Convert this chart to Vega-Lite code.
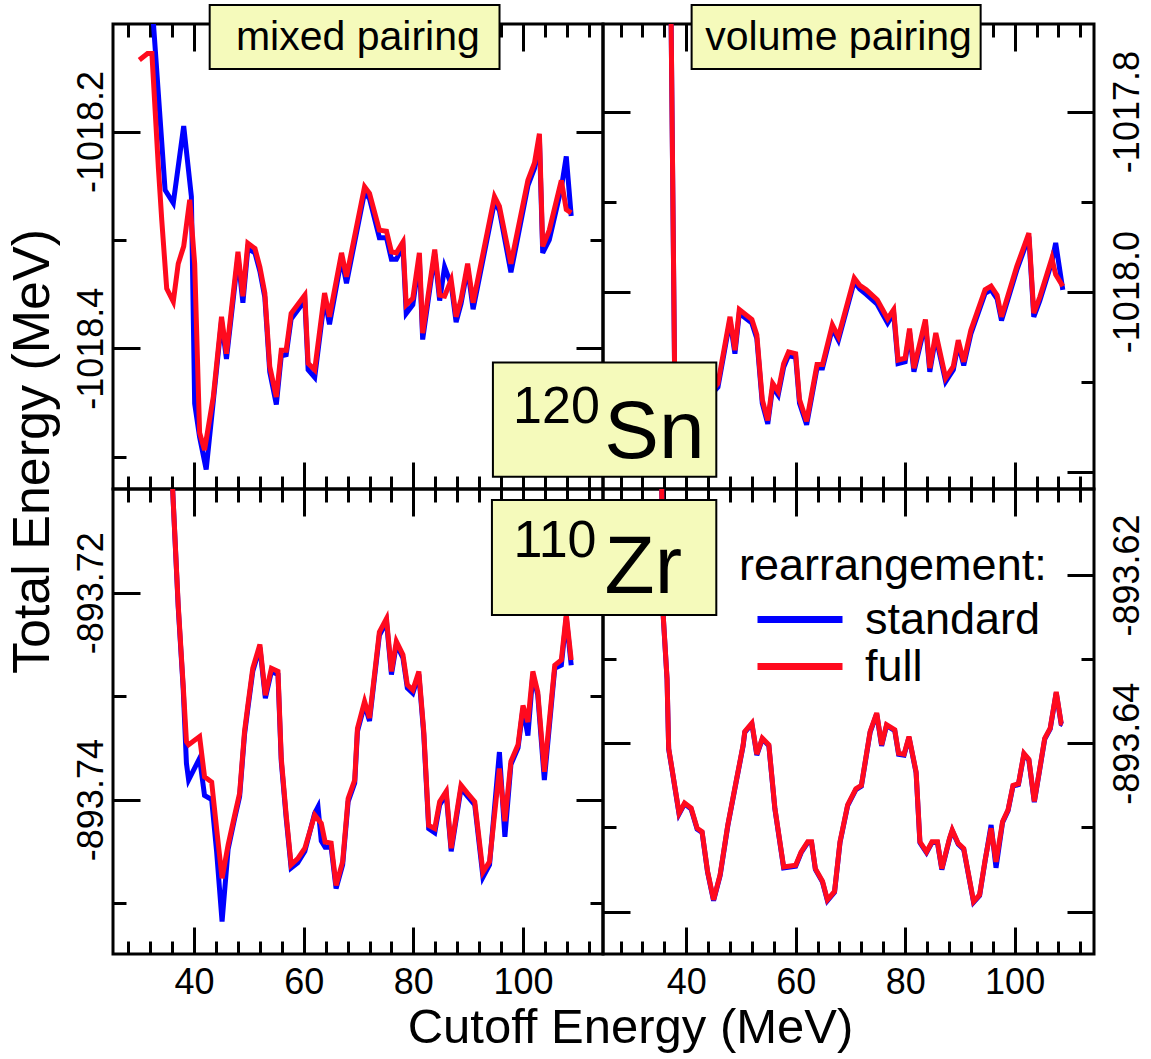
{
"$schema": "https://vega.github.io/schema/vega-lite/v6.json",
"padding": {"left": 4, "top": 2, "right": 2, "bottom": 2},
"background": "white",
"datasets": {
"tl_full": [{"cutoff":30,"energy":-1018.134},{"cutoff":31.5,"energy":-1018.128},{"cutoff":32.3,"energy":-1018.128},{"cutoff":33.5,"energy":-1018.235},{"cutoff":34.1,"energy":-1018.282},{"cutoff":35,"energy":-1018.345},{"cutoff":36.2,"energy":-1018.357},{"cutoff":37.1,"energy":-1018.322},{"cutoff":38.1,"energy":-1018.306},{"cutoff":39.2,"energy":-1018.263},{"cutoff":40.1,"energy":-1018.322},{"cutoff":41,"energy":-1018.478},{"cutoff":41.9,"energy":-1018.494},{"cutoff":43.5,"energy":-1018.445},{"cutoff":45,"energy":-1018.371},{"cutoff":45.9,"energy":-1018.405},{"cutoff":48,"energy":-1018.311},{"cutoff":48.9,"energy":-1018.352},{"cutoff":49.8,"energy":-1018.303},{"cutoff":51.1,"energy":-1018.308},{"cutoff":52,"energy":-1018.325},{"cutoff":52.9,"energy":-1018.349},{"cutoff":53.8,"energy":-1018.417},{"cutoff":55,"energy":-1018.445},{"cutoff":55.9,"energy":-1018.402},{"cutoff":56.8,"energy":-1018.402},{"cutoff":57.7,"energy":-1018.368},{"cutoff":60.2,"energy":-1018.351},{"cutoff":60.8,"energy":-1018.414},{"cutoff":62,"energy":-1018.42},{"cutoff":63.8,"energy":-1018.349},{"cutoff":64.7,"energy":-1018.371},{"cutoff":66.9,"energy":-1018.312},{"cutoff":67.8,"energy":-1018.334},{"cutoff":71.1,"energy":-1018.251},{"cutoff":72,"energy":-1018.257},{"cutoff":73.8,"energy":-1018.291},{"cutoff":75.1,"energy":-1018.292},{"cutoff":76,"energy":-1018.311},{"cutoff":76.9,"energy":-1018.312},{"cutoff":78.1,"energy":-1018.302},{"cutoff":78.7,"energy":-1018.36},{"cutoff":79.9,"energy":-1018.354},{"cutoff":81.1,"energy":-1018.312},{"cutoff":81.7,"energy":-1018.386},{"cutoff":83.9,"energy":-1018.309},{"cutoff":84.8,"energy":-1018.351},{"cutoff":85.7,"energy":-1018.352},{"cutoff":86.9,"energy":-1018.337},{"cutoff":87.8,"energy":-1018.371},{"cutoff":88.7,"energy":-1018.355},{"cutoff":89.9,"energy":-1018.322},{"cutoff":90.9,"energy":-1018.358},{"cutoff":94.8,"energy":-1018.26},{"cutoff":95.7,"energy":-1018.269},{"cutoff":97.8,"energy":-1018.322},{"cutoff":100.9,"energy":-1018.245},{"cutoff":102.1,"energy":-1018.229},{"cutoff":103,"energy":-1018.202},{"cutoff":103.6,"energy":-1018.306},{"cutoff":104.8,"energy":-1018.291},{"cutoff":107,"energy":-1018.245},{"cutoff":107.9,"energy":-1018.272},{"cutoff":108.8,"energy":-1018.275}],
"tl_standard": [{"cutoff":31,"energy":-1017.98},{"cutoff":32.3,"energy":-1018.08},{"cutoff":34.7,"energy":-1018.254},{"cutoff":36.2,"energy":-1018.266},{"cutoff":38.1,"energy":-1018.195},{"cutoff":39.5,"energy":-1018.26},{"cutoff":40.1,"energy":-1018.451},{"cutoff":41,"energy":-1018.482},{"cutoff":42.2,"energy":-1018.512},{"cutoff":43.5,"energy":-1018.449},{"cutoff":45,"energy":-1018.375},{"cutoff":45.9,"energy":-1018.41},{"cutoff":48,"energy":-1018.316},{"cutoff":48.9,"energy":-1018.358},{"cutoff":49.8,"energy":-1018.308},{"cutoff":51.1,"energy":-1018.312},{"cutoff":52,"energy":-1018.329},{"cutoff":52.9,"energy":-1018.353},{"cutoff":53.8,"energy":-1018.422},{"cutoff":55,"energy":-1018.452},{"cutoff":55.9,"energy":-1018.407},{"cutoff":56.8,"energy":-1018.406},{"cutoff":57.7,"energy":-1018.373},{"cutoff":60.2,"energy":-1018.356},{"cutoff":60.8,"energy":-1018.42},{"cutoff":62,"energy":-1018.427},{"cutoff":63.8,"energy":-1018.354},{"cutoff":64.7,"energy":-1018.378},{"cutoff":66.9,"energy":-1018.317},{"cutoff":67.8,"energy":-1018.34},{"cutoff":71.1,"energy":-1018.256},{"cutoff":72,"energy":-1018.262},{"cutoff":73.8,"energy":-1018.298},{"cutoff":75.1,"energy":-1018.298},{"cutoff":76,"energy":-1018.318},{"cutoff":76.9,"energy":-1018.318},{"cutoff":78.1,"energy":-1018.306},{"cutoff":78.7,"energy":-1018.368},{"cutoff":79.9,"energy":-1018.36},{"cutoff":81.1,"energy":-1018.318},{"cutoff":81.7,"energy":-1018.392},{"cutoff":83.9,"energy":-1018.313},{"cutoff":84.8,"energy":-1018.356},{"cutoff":85.7,"energy":-1018.325},{"cutoff":86.9,"energy":-1018.341},{"cutoff":87.8,"energy":-1018.376},{"cutoff":88.7,"energy":-1018.359},{"cutoff":89.9,"energy":-1018.326},{"cutoff":90.9,"energy":-1018.364},{"cutoff":94.8,"energy":-1018.265},{"cutoff":95.7,"energy":-1018.273},{"cutoff":97.8,"energy":-1018.33},{"cutoff":100.9,"energy":-1018.25},{"cutoff":102.1,"energy":-1018.234},{"cutoff":103,"energy":-1018.207},{"cutoff":103.6,"energy":-1018.312},{"cutoff":104.8,"energy":-1018.3},{"cutoff":107,"energy":-1018.252},{"cutoff":107.9,"energy":-1018.223},{"cutoff":108.8,"energy":-1018.278}],
"tr_full": [{"cutoff":37,"energy":-1017.55},{"cutoff":38,"energy":-1018.16},{"cutoff":40,"energy":-1018.15},{"cutoff":42,"energy":-1018.13},{"cutoff":44,"energy":-1018.115},{"cutoff":45.8,"energy":-1018.102},{"cutoff":48,"energy":-1018.028},{"cutoff":48.9,"energy":-1018.065},{"cutoff":49.7,"energy":-1018.02},{"cutoff":52,"energy":-1018.031},{"cutoff":52.9,"energy":-1018.048},{"cutoff":53.9,"energy":-1018.12},{"cutoff":54.9,"energy":-1018.143},{"cutoff":55.8,"energy":-1018.102},{"cutoff":56.8,"energy":-1018.111},{"cutoff":57.8,"energy":-1018.08},{"cutoff":58.7,"energy":-1018.067},{"cutoff":60,"energy":-1018.069},{"cutoff":60.7,"energy":-1018.12},{"cutoff":62,"energy":-1018.144},{"cutoff":63.9,"energy":-1018.081},{"cutoff":64.9,"energy":-1018.081},{"cutoff":66.7,"energy":-1018.037},{"cutoff":67.8,"energy":-1018.05},{"cutoff":70.7,"energy":-1017.985},{"cutoff":71.7,"energy":-1017.993},{"cutoff":72.9,"energy":-1017.998},{"cutoff":74.9,"energy":-1018.009},{"cutoff":75.8,"energy":-1018.019},{"cutoff":76.8,"energy":-1018.03},{"cutoff":77.9,"energy":-1018.02},{"cutoff":78.7,"energy":-1018.076},{"cutoff":80,"energy":-1018.074},{"cutoff":80.8,"energy":-1018.041},{"cutoff":81.6,"energy":-1018.085},{"cutoff":83.7,"energy":-1018.031},{"cutoff":84.5,"energy":-1018.085},{"cutoff":85.6,"energy":-1018.046},{"cutoff":87.4,"energy":-1018.096},{"cutoff":88.8,"energy":-1018.083},{"cutoff":89.7,"energy":-1018.054},{"cutoff":90.7,"energy":-1018.078},{"cutoff":92,"energy":-1018.043},{"cutoff":94.6,"energy":-1017.998},{"cutoff":95.7,"energy":-1017.994},{"cutoff":96.8,"energy":-1018.004},{"cutoff":97.6,"energy":-1018.028},{"cutoff":100.4,"energy":-1017.972},{"cutoff":102.6,"energy":-1017.935},{"cutoff":103.5,"energy":-1018.024},{"cutoff":104.6,"energy":-1018.006},{"cutoff":106.8,"energy":-1017.963},{"cutoff":107.5,"energy":-1017.981},{"cutoff":108.8,"energy":-1017.994}],
"tr_standard": [{"cutoff":37,"energy":-1017.55},{"cutoff":38,"energy":-1018.163},{"cutoff":40,"energy":-1018.153},{"cutoff":42,"energy":-1018.133},{"cutoff":44,"energy":-1018.118},{"cutoff":45.8,"energy":-1018.106},{"cutoff":48,"energy":-1018.032},{"cutoff":48.9,"energy":-1018.069},{"cutoff":49.7,"energy":-1018.024},{"cutoff":52,"energy":-1018.035},{"cutoff":52.9,"energy":-1018.052},{"cutoff":53.9,"energy":-1018.124},{"cutoff":54.9,"energy":-1018.147},{"cutoff":55.8,"energy":-1018.106},{"cutoff":56.8,"energy":-1018.115},{"cutoff":57.8,"energy":-1018.084},{"cutoff":58.7,"energy":-1018.071},{"cutoff":60,"energy":-1018.073},{"cutoff":60.7,"energy":-1018.124},{"cutoff":62,"energy":-1018.148},{"cutoff":63.9,"energy":-1018.085},{"cutoff":64.9,"energy":-1018.085},{"cutoff":66.7,"energy":-1018.041},{"cutoff":67.8,"energy":-1018.054},{"cutoff":70.7,"energy":-1017.989},{"cutoff":71.7,"energy":-1017.997},{"cutoff":72.9,"energy":-1018.003},{"cutoff":74.9,"energy":-1018.014},{"cutoff":75.8,"energy":-1018.024},{"cutoff":76.8,"energy":-1018.035},{"cutoff":77.9,"energy":-1018.024},{"cutoff":78.7,"energy":-1018.08},{"cutoff":80,"energy":-1018.078},{"cutoff":80.8,"energy":-1018.045},{"cutoff":81.6,"energy":-1018.089},{"cutoff":83.7,"energy":-1018.035},{"cutoff":84.5,"energy":-1018.089},{"cutoff":85.6,"energy":-1018.05},{"cutoff":87.4,"energy":-1018.1},{"cutoff":88.8,"energy":-1018.087},{"cutoff":89.7,"energy":-1018.058},{"cutoff":90.7,"energy":-1018.082},{"cutoff":92,"energy":-1018.047},{"cutoff":94.6,"energy":-1018.002},{"cutoff":95.7,"energy":-1017.998},{"cutoff":96.8,"energy":-1018.008},{"cutoff":97.6,"energy":-1018.032},{"cutoff":100.4,"energy":-1017.976},{"cutoff":102.6,"energy":-1017.939},{"cutoff":103.5,"energy":-1018.028},{"cutoff":104.6,"energy":-1018.01},{"cutoff":106.8,"energy":-1017.967},{"cutoff":107.5,"energy":-1017.946},{"cutoff":108.8,"energy":-1017.998}],
"bl_full": [{"cutoff":35,"energy":-893.69},{"cutoff":36.1,"energy":-893.7102},{"cutoff":37.1,"energy":-893.7212},{"cutoff":38,"energy":-893.7289},{"cutoff":38.6,"energy":-893.7344},{"cutoff":39,"energy":-893.7347},{"cutoff":41,"energy":-893.7339},{"cutoff":41.9,"energy":-893.7378},{"cutoff":43.2,"energy":-893.7383},{"cutoff":44.1,"energy":-893.7428},{"cutoff":45.1,"energy":-893.7476},{"cutoff":46.2,"energy":-893.7444},{"cutoff":47.4,"energy":-893.7415},{"cutoff":48.3,"energy":-893.7394},{"cutoff":49.2,"energy":-893.7334},{"cutoff":49.8,"energy":-893.7309},{"cutoff":50.7,"energy":-893.7273},{"cutoff":52,"energy":-893.725},{"cutoff":53,"energy":-893.7299},{"cutoff":54.1,"energy":-893.7273},{"cutoff":55.3,"energy":-893.7276},{"cutoff":55.9,"energy":-893.736},{"cutoff":56.8,"energy":-893.7415},{"cutoff":57.7,"energy":-893.7463},{"cutoff":58.9,"energy":-893.7457},{"cutoff":60.2,"energy":-893.7447},{"cutoff":62,"energy":-893.7415},{"cutoff":63.2,"energy":-893.7423},{"cutoff":63.9,"energy":-893.7441},{"cutoff":65,"energy":-893.7442},{"cutoff":65.9,"energy":-893.7483},{"cutoff":67.1,"energy":-893.746},{"cutoff":68.1,"energy":-893.7399},{"cutoff":69.3,"energy":-893.7381},{"cutoff":69.8,"energy":-893.7331},{"cutoff":71.1,"energy":-893.7305},{"cutoff":72,"energy":-893.7321},{"cutoff":73.8,"energy":-893.7238},{"cutoff":75.1,"energy":-893.7225},{"cutoff":76,"energy":-893.7276},{"cutoff":76.9,"energy":-893.7247},{"cutoff":78.1,"energy":-893.726},{"cutoff":78.9,"energy":-893.7289},{"cutoff":79.9,"energy":-893.7294},{"cutoff":81,"energy":-893.7276},{"cutoff":81.9,"energy":-893.7334},{"cutoff":82.8,"energy":-893.7425},{"cutoff":83.9,"energy":-893.7428},{"cutoff":84.8,"energy":-893.7402},{"cutoff":86,"energy":-893.7392},{"cutoff":86.9,"energy":-893.7447},{"cutoff":88.7,"energy":-893.7386},{"cutoff":89.9,"energy":-893.7394},{"cutoff":91.2,"energy":-893.7402},{"cutoff":92.7,"energy":-893.747},{"cutoff":93.9,"energy":-893.746},{"cutoff":95.7,"energy":-893.737},{"cutoff":96.7,"energy":-893.7421},{"cutoff":97.8,"energy":-893.7363},{"cutoff":99.1,"energy":-893.7347},{"cutoff":100,"energy":-893.7309},{"cutoff":100.9,"energy":-893.7325},{"cutoff":101.8,"energy":-893.7276},{"cutoff":102.7,"energy":-893.7296},{"cutoff":103.9,"energy":-893.7373},{"cutoff":105.8,"energy":-893.727},{"cutoff":107,"energy":-893.7265},{"cutoff":107.9,"energy":-893.7221},{"cutoff":108.8,"energy":-893.7265}],
"bl_standard": [{"cutoff":35,"energy":-893.69},{"cutoff":36.1,"energy":-893.7102},{"cutoff":37.1,"energy":-893.7214},{"cutoff":38,"energy":-893.7292},{"cutoff":38.6,"energy":-893.7365},{"cutoff":39,"energy":-893.7381},{"cutoff":41,"energy":-893.736},{"cutoff":41.9,"energy":-893.7396},{"cutoff":43.2,"energy":-893.74},{"cutoff":44.1,"energy":-893.745},{"cutoff":45.1,"energy":-893.7518},{"cutoff":46.2,"energy":-893.7448},{"cutoff":47.4,"energy":-893.7418},{"cutoff":48.3,"energy":-893.7397},{"cutoff":49.2,"energy":-893.7337},{"cutoff":49.8,"energy":-893.7312},{"cutoff":50.7,"energy":-893.7276},{"cutoff":52,"energy":-893.7253},{"cutoff":53,"energy":-893.7302},{"cutoff":54.1,"energy":-893.7276},{"cutoff":55.3,"energy":-893.7279},{"cutoff":55.9,"energy":-893.7363},{"cutoff":56.8,"energy":-893.7418},{"cutoff":57.7,"energy":-893.7466},{"cutoff":58.9,"energy":-893.7461},{"cutoff":60.2,"energy":-893.745},{"cutoff":62,"energy":-893.7413},{"cutoff":62.6,"energy":-893.7407},{"cutoff":63.2,"energy":-893.744},{"cutoff":63.9,"energy":-893.7446},{"cutoff":65,"energy":-893.7446},{"cutoff":65.9,"energy":-893.7486},{"cutoff":67.1,"energy":-893.7463},{"cutoff":68.1,"energy":-893.7402},{"cutoff":69.3,"energy":-893.7384},{"cutoff":69.8,"energy":-893.7334},{"cutoff":71.1,"energy":-893.7308},{"cutoff":72,"energy":-893.7324},{"cutoff":73.8,"energy":-893.7241},{"cutoff":75.1,"energy":-893.7228},{"cutoff":76,"energy":-893.7279},{"cutoff":76.9,"energy":-893.725},{"cutoff":78.1,"energy":-893.7263},{"cutoff":78.9,"energy":-893.7292},{"cutoff":79.9,"energy":-893.7297},{"cutoff":81,"energy":-893.7279},{"cutoff":81.9,"energy":-893.7337},{"cutoff":82.8,"energy":-893.7428},{"cutoff":83.9,"energy":-893.7432},{"cutoff":84.8,"energy":-893.7405},{"cutoff":86,"energy":-893.7395},{"cutoff":86.9,"energy":-893.745},{"cutoff":88.7,"energy":-893.7389},{"cutoff":89.9,"energy":-893.7397},{"cutoff":91.2,"energy":-893.7405},{"cutoff":92.7,"energy":-893.7475},{"cutoff":93.9,"energy":-893.7463},{"cutoff":95.7,"energy":-893.7354},{"cutoff":96.7,"energy":-893.7436},{"cutoff":97.8,"energy":-893.7366},{"cutoff":99.1,"energy":-893.735},{"cutoff":100,"energy":-893.7312},{"cutoff":100.9,"energy":-893.7338},{"cutoff":101.8,"energy":-893.7279},{"cutoff":102.7,"energy":-893.7299},{"cutoff":103.9,"energy":-893.7381},{"cutoff":105.8,"energy":-893.7273},{"cutoff":107,"energy":-893.727},{"cutoff":107.9,"energy":-893.7224},{"cutoff":108.8,"energy":-893.727}],
"br_full": [{"cutoff":35,"energy":-893.58},{"cutoff":35.8,"energy":-893.6248},{"cutoff":36.5,"energy":-893.6323},{"cutoff":36.8,"energy":-893.6406},{"cutoff":37.4,"energy":-893.643},{"cutoff":38.7,"energy":-893.6483},{"cutoff":39.7,"energy":-893.6471},{"cutoff":40.9,"energy":-893.6477},{"cutoff":42,"energy":-893.6501},{"cutoff":42.9,"energy":-893.6505},{"cutoff":43.9,"energy":-893.6552},{"cutoff":45,"energy":-893.6586},{"cutoff":46.2,"energy":-893.6556},{"cutoff":47.6,"energy":-893.6497},{"cutoff":49.1,"energy":-893.6446},{"cutoff":50.4,"energy":-893.6402},{"cutoff":50.7,"energy":-893.6386},{"cutoff":52,"energy":-893.6376},{"cutoff":52.9,"energy":-893.6413},{"cutoff":53.9,"energy":-893.6394},{"cutoff":55.1,"energy":-893.6402},{"cutoff":56.2,"energy":-893.6477},{"cutoff":57.8,"energy":-893.6547},{"cutoff":60,"energy":-893.6545},{"cutoff":61,"energy":-893.6529},{"cutoff":62.2,"energy":-893.6517},{"cutoff":62.9,"energy":-893.6517},{"cutoff":63.6,"energy":-893.6549},{"cutoff":64.9,"energy":-893.6564},{"cutoff":65.8,"energy":-893.6586},{"cutoff":67.1,"energy":-893.6576},{"cutoff":68.1,"energy":-893.6517},{"cutoff":69.5,"energy":-893.6473},{"cutoff":71,"energy":-893.6454},{"cutoff":72,"energy":-893.645},{"cutoff":73.6,"energy":-893.6386},{"cutoff":74.8,"energy":-893.6364},{"cutoff":75.7,"energy":-893.6402},{"cutoff":76.6,"energy":-893.6378},{"cutoff":78.1,"energy":-893.6384},{"cutoff":78.8,"energy":-893.6412},{"cutoff":79.8,"energy":-893.6413},{"cutoff":80.7,"energy":-893.6392},{"cutoff":82,"energy":-893.6434},{"cutoff":82.7,"energy":-893.6517},{"cutoff":83.9,"energy":-893.6529},{"cutoff":84.9,"energy":-893.6517},{"cutoff":85.9,"energy":-893.6517},{"cutoff":86.7,"energy":-893.6549},{"cutoff":88.1,"energy":-893.6513},{"cutoff":88.6,"energy":-893.6503},{"cutoff":89.7,"energy":-893.6519},{"cutoff":90.7,"energy":-893.6525},{"cutoff":92.5,"energy":-893.6588},{"cutoff":93.6,"energy":-893.658},{"cutoff":94.6,"energy":-893.6539},{"cutoff":95.7,"energy":-893.6501},{"cutoff":96.6,"energy":-893.6541},{"cutoff":97.8,"energy":-893.6493},{"cutoff":98.8,"energy":-893.6479},{"cutoff":99.7,"energy":-893.645},{"cutoff":100.7,"energy":-893.6448},{"cutoff":101.7,"energy":-893.6412},{"cutoff":102.6,"energy":-893.6419},{"cutoff":103.6,"energy":-893.6469},{"cutoff":105.5,"energy":-893.6394},{"cutoff":106.5,"energy":-893.6382},{"cutoff":107.6,"energy":-893.6339},{"cutoff":108.5,"energy":-893.6376},{"cutoff":108.8,"energy":-893.6376}],
"br_standard": [{"cutoff":35,"energy":-893.58},{"cutoff":35.8,"energy":-893.6249},{"cutoff":36.5,"energy":-893.6324},{"cutoff":36.8,"energy":-893.6407},{"cutoff":37.4,"energy":-893.6431},{"cutoff":38.7,"energy":-893.6484},{"cutoff":39.7,"energy":-893.6472},{"cutoff":40.9,"energy":-893.6478},{"cutoff":42,"energy":-893.6502},{"cutoff":42.9,"energy":-893.6506},{"cutoff":43.9,"energy":-893.6553},{"cutoff":45,"energy":-893.6587},{"cutoff":46.2,"energy":-893.6557},{"cutoff":47.6,"energy":-893.6498},{"cutoff":49.1,"energy":-893.6447},{"cutoff":50.4,"energy":-893.6403},{"cutoff":50.7,"energy":-893.6387},{"cutoff":52,"energy":-893.6377},{"cutoff":52.9,"energy":-893.6414},{"cutoff":53.9,"energy":-893.6395},{"cutoff":55.1,"energy":-893.6403},{"cutoff":56.2,"energy":-893.6478},{"cutoff":57.8,"energy":-893.6548},{"cutoff":60,"energy":-893.6546},{"cutoff":61,"energy":-893.653},{"cutoff":62.2,"energy":-893.6518},{"cutoff":62.9,"energy":-893.6518},{"cutoff":63.6,"energy":-893.655},{"cutoff":64.9,"energy":-893.6565},{"cutoff":65.8,"energy":-893.6587},{"cutoff":67.1,"energy":-893.6577},{"cutoff":68.1,"energy":-893.6518},{"cutoff":69.5,"energy":-893.6474},{"cutoff":71,"energy":-893.6455},{"cutoff":72,"energy":-893.6451},{"cutoff":73.6,"energy":-893.6387},{"cutoff":74.8,"energy":-893.6365},{"cutoff":75.7,"energy":-893.6403},{"cutoff":76.6,"energy":-893.6379},{"cutoff":78.1,"energy":-893.6385},{"cutoff":78.8,"energy":-893.6413},{"cutoff":79.8,"energy":-893.6414},{"cutoff":80.7,"energy":-893.6393},{"cutoff":82,"energy":-893.6435},{"cutoff":82.7,"energy":-893.6518},{"cutoff":83.9,"energy":-893.653},{"cutoff":84.9,"energy":-893.6518},{"cutoff":85.9,"energy":-893.6518},{"cutoff":86.7,"energy":-893.655},{"cutoff":88.1,"energy":-893.6514},{"cutoff":88.6,"energy":-893.6504},{"cutoff":89.7,"energy":-893.652},{"cutoff":90.7,"energy":-893.6526},{"cutoff":92.5,"energy":-893.6589},{"cutoff":93.6,"energy":-893.6581},{"cutoff":94.6,"energy":-893.654},{"cutoff":95.7,"energy":-893.6497},{"cutoff":96.6,"energy":-893.6548},{"cutoff":97.8,"energy":-893.6494},{"cutoff":98.8,"energy":-893.648},{"cutoff":99.7,"energy":-893.6451},{"cutoff":100.7,"energy":-893.6449},{"cutoff":101.7,"energy":-893.6413},{"cutoff":102.6,"energy":-893.642},{"cutoff":103.6,"energy":-893.647},{"cutoff":105.5,"energy":-893.6395},{"cutoff":106.5,"energy":-893.6383},{"cutoff":107.6,"energy":-893.634},{"cutoff":108.5,"energy":-893.6377},{"cutoff":108.8,"energy":-893.6378}]
},
"columns": 2,
"spacing": 0,
"bounds": "flush",
"concat": [
 {"width": 490, "height": 465,
  "resolve": {"axis": {"x": "independent", "y": "independent"}},
  "layer": [
   {"data": {"name": "tl_standard"}, "mark": {"type": "line", "strokeWidth": 5, "clip": true},
    "encoding": {
     "x": {"field": "cutoff", "type": "quantitative", "scale": {"domain": [25.2, 114.6], "nice": false, "zero": false},
       "axis": {"orient": "bottom", "values": [28,32,36,40,44,48,52,56,60,64,68,72,76,80,84,88,92,96,100,104,108,112], "tickSize": {"condition": {"test": "datum.value % 20 == 0", "value": -27}, "value": -13}, "labels": false, "title": null}},
     "y": {"field": "energy", "type": "quantitative", "scale": {"domain": [-1018.53, -1018.1007], "nice": false, "zero": false},
       "axis": {"orient": "left", "values": [-1018.5,-1018.4,-1018.3,-1018.2], "format": ".1f", "tickSize": {"condition": {"test": "abs(round(datum.value*10)) % 2 == 0", "value": -27}, "value": -13}, "labelExpr": "abs(round(datum.value*10)) % 2 == 0 ? replace(datum.label, '−', '-') : ''", "labelAngle": -90, "labelAlign": "center", "labelBaseline": "alphabetic", "labelPadding": 38, "title": "Total Energy (MeV)", "titleFontSize": 52, "titleAngle": -90, "titleAlign": "center", "titleBaseline": "alphabetic", "titleX": -65, "titleY": 427}},
     "color": {"datum": "standard", "title": "rearrangement:", "scale": {"domain": ["standard", "full"], "range": ["#0000ff", "#ff0a1e"]}}
    }},
   {"data": {"name": "tl_full"}, "mark": {"type": "line", "strokeWidth": 5, "clip": true},
    "encoding": {
     "x": {"field": "cutoff", "type": "quantitative",
       "axis": {"orient": "top", "values": [28,32,36,40,44,48,52,56,60,64,68,72,76,80,84,88,92,96,100,104,108,112], "tickSize": {"condition": {"test": "datum.value % 20 == 0", "value": -27}, "value": -13}, "labels": false, "title": null}},
     "y": {"field": "energy", "type": "quantitative",
       "axis": {"orient": "right", "values": [-1018.5,-1018.4,-1018.3,-1018.2], "tickSize": {"condition": {"test": "abs(round(datum.value*10)) % 2 == 0", "value": -27}, "value": -13}, "labels": false, "title": null}},
     "color": {"datum": "full", "title": "rearrangement:"}
    }},
   {"data": {"values": [{"label": "mixed pairing"}]},
    "layer": [
     {"mark": {"type": "rect", "fill": "#f5fabb", "stroke": "black", "strokeWidth": 2},
      "encoding": {"x": {"datum": 42.84, "type": "quantitative", "axis": null}, "x2": {"datum": 95.72}, "y": {"datum": -1018.0831, "type": "quantitative", "axis": null}, "y2": {"datum": -1018.1422}}},
     {"mark": {"type": "text", "fontSize": 41, "align": "center", "baseline": "alphabetic", "font": "Liberation Sans", "color": "black"},
      "encoding": {"x": {"datum": 69.88, "type": "quantitative", "axis": null}, "y": {"datum": -1018.1247, "type": "quantitative", "axis": null}, "text": {"field": "label"}}}
    ]}
  ]},
 {"width": 491, "height": 465,
  "resolve": {"axis": {"x": "independent", "y": "independent"}},
  "layer": [
   {"data": {"name": "tr_standard"}, "mark": {"type": "line", "strokeWidth": 5, "clip": true},
    "encoding": {
     "x": {"field": "cutoff", "type": "quantitative", "scale": {"domain": [24.8, 114.5], "nice": false, "zero": false},
       "axis": {"orient": "bottom", "values": [28,32,36,40,44,48,52,56,60,64,68,72,76,80,84,88,92,96,100,104,108,112], "tickSize": {"condition": {"test": "datum.value % 20 == 0", "value": -27}, "value": -13}, "labels": false, "title": null}},
     "y": {"field": "energy", "type": "quantitative", "scale": {"domain": [-1018.2193, -1017.7027], "nice": false, "zero": false},
       "axis": {"orient": "left", "values": [-1018.2,-1018.1,-1018.0,-1017.9,-1017.8], "tickSize": {"condition": {"test": "abs(round(datum.value*10)) % 2 == 0", "value": -27}, "value": -13}, "labels": false, "title": null}},
     "color": {"datum": "standard", "title": "rearrangement:"}
    }},
   {"data": {"name": "tr_full"}, "mark": {"type": "line", "strokeWidth": 5, "clip": true},
    "encoding": {
     "x": {"field": "cutoff", "type": "quantitative",
       "axis": {"orient": "top", "values": [28,32,36,40,44,48,52,56,60,64,68,72,76,80,84,88,92,96,100,104,108,112], "tickSize": {"condition": {"test": "datum.value % 20 == 0", "value": -27}, "value": -13}, "labels": false, "title": null}},
     "y": {"field": "energy", "type": "quantitative",
       "axis": {"orient": "right", "values": [-1018.2,-1018.1,-1018.0,-1017.9,-1017.8], "format": ".1f", "tickSize": {"condition": {"test": "abs(round(datum.value*10)) % 2 == 0", "value": -27}, "value": -13}, "labelExpr": "datum.value > -1018.1 && abs(round(datum.value*10)) % 2 == 0 ? replace(datum.label, '−', '-') : ''", "labelAngle": -90, "labelAlign": "center", "labelBaseline": "top", "labelPadding": 43, "title": null}},
     "color": {"datum": "full", "title": "rearrangement:"}
    }},
   {"data": {"values": [{"label": "volume pairing", "sup": "120", "sym": "Sn"}]},
    "layer": [
     {"mark": {"type": "rect", "fill": "#f5fabb", "stroke": "black", "strokeWidth": 2},
      "encoding": {"x": {"datum": 40.99, "type": "quantitative", "axis": null}, "x2": {"datum": 93.79}, "y": {"datum": -1017.6816, "type": "quantitative", "axis": null}, "y2": {"datum": -1017.7527}}},
     {"mark": {"type": "text", "fontSize": 41, "align": "center", "baseline": "alphabetic", "font": "Liberation Sans", "color": "black"},
      "encoding": {"x": {"datum": 67.84, "type": "quantitative", "axis": null}, "y": {"datum": -1017.7316, "type": "quantitative", "axis": null}, "text": {"field": "label"}}},
     {"mark": {"type": "rect", "fill": "#f5fabb", "stroke": "black", "strokeWidth": 2},
      "encoding": {"x": {"datum": 4.69, "type": "quantitative", "axis": null}, "x2": {"datum": 45.5}, "y": {"datum": -1018.0789, "type": "quantitative", "axis": null}, "y2": {"datum": -1018.2056}}},
     {"mark": {"type": "text", "fontSize": 52, "align": "right", "baseline": "alphabetic", "font": "Liberation Sans", "color": "black"},
      "encoding": {"x": {"datum": 24.23, "type": "quantitative", "axis": null}, "y": {"datum": -1018.1456, "type": "quantitative", "axis": null}, "text": {"field": "sup"}}},
     {"mark": {"type": "text", "fontSize": 82, "align": "left", "baseline": "alphabetic", "font": "Liberation Sans", "color": "black"},
      "encoding": {"x": {"datum": 25.02, "type": "quantitative", "axis": null}, "y": {"datum": -1018.1852, "type": "quantitative", "axis": null}, "text": {"field": "sym"}}}
    ]}
  ]},
 {"width": 490, "height": 465,
  "resolve": {"axis": {"x": "independent", "y": "independent"}},
  "layer": [
   {"data": {"name": "bl_standard"}, "mark": {"type": "line", "strokeWidth": 5, "clip": true},
    "encoding": {
     "x": {"field": "cutoff", "type": "quantitative", "scale": {"domain": [25.2, 114.6], "nice": false, "zero": false},
       "axis": {"orient": "bottom", "values": [28,32,36,40,44,48,52,56,60,64,68,72,76,80,84,88,92,96,100,104,108,112], "tickSize": {"condition": {"test": "datum.value % 20 == 0", "value": -27}, "value": -13}, "labelExpr": "datum.value % 20 == 0 ? datum.label : ''", "labelPadding": 38, "title": "Cutoff Energy (MeV)", "titleFontSize": 49, "titleAlign": "center", "titleBaseline": "alphabetic", "titleAngle": 0, "titleX": 517, "titleY": 88}},
     "y": {"field": "energy", "type": "quantitative", "scale": {"domain": [-893.75493, -893.70996], "nice": false, "zero": false},
       "axis": {"orient": "left", "values": [-893.75,-893.74,-893.73,-893.72], "format": ".2f", "tickSize": {"condition": {"test": "abs(round(datum.value*100)) % 2 == 0", "value": -27}, "value": -13}, "labelExpr": "abs(round(datum.value*100)) % 2 == 0 ? replace(datum.label, '−', '-') : ''", "labelAngle": -90, "labelAlign": "center", "labelBaseline": "alphabetic", "labelPadding": 38, "title": null}},
     "color": {"datum": "standard", "title": "rearrangement:"}
    }},
   {"data": {"name": "bl_full"}, "mark": {"type": "line", "strokeWidth": 5, "clip": true},
    "encoding": {
     "x": {"field": "cutoff", "type": "quantitative",
       "axis": {"orient": "top", "values": [28,32,36,40,44,48,52,56,60,64,68,72,76,80,84,88,92,96,100,104,108,112], "tickSize": {"condition": {"test": "datum.value % 20 == 0", "value": -27}, "value": -13}, "labels": false, "title": null}},
     "y": {"field": "energy", "type": "quantitative",
       "axis": {"orient": "right", "values": [-893.75,-893.74,-893.73,-893.72], "tickSize": {"condition": {"test": "abs(round(datum.value*100)) % 2 == 0", "value": -27}, "value": -13}, "labels": false, "title": null}},
     "color": {"datum": "full", "title": "rearrangement:"}
    }}
  ]},
 {"width": 491, "height": 465,
  "resolve": {"axis": {"x": "independent", "y": "independent"}},
  "layer": [
   {"data": {"name": "br_standard"}, "mark": {"type": "line", "strokeWidth": 5, "clip": true},
    "encoding": {
     "x": {"field": "cutoff", "type": "quantitative", "scale": {"domain": [24.8, 114.5], "nice": false, "zero": false},
       "axis": {"orient": "bottom", "values": [28,32,36,40,44,48,52,56,60,64,68,72,76,80,84,88,92,96,100,104,108,112], "tickSize": {"condition": {"test": "datum.value % 20 == 0", "value": -27}, "value": -13}, "labelExpr": "datum.value % 20 == 0 ? datum.label : ''", "labelPadding": 38, "title": null}},
     "y": {"field": "energy", "type": "quantitative", "scale": {"domain": [-893.66504, -893.60978], "nice": false, "zero": false},
       "axis": {"orient": "left", "values": [-893.66,-893.65,-893.64,-893.63,-893.62], "tickSize": {"condition": {"test": "abs(round(datum.value*100)) % 2 == 0", "value": -27}, "value": -13}, "labels": false, "title": null}},
     "color": {"datum": "standard", "title": "rearrangement:"}
    }},
   {"data": {"name": "br_full"}, "mark": {"type": "line", "strokeWidth": 5, "clip": true},
    "encoding": {
     "x": {"field": "cutoff", "type": "quantitative",
       "axis": {"orient": "top", "values": [28,32,36,40,44,48,52,56,60,64,68,72,76,80,84,88,92,96,100,104,108,112], "tickSize": {"condition": {"test": "datum.value % 20 == 0", "value": -27}, "value": -13}, "labels": false, "title": null}},
     "y": {"field": "energy", "type": "quantitative",
       "axis": {"orient": "right", "values": [-893.66,-893.65,-893.64,-893.63,-893.62], "format": ".2f", "tickSize": {"condition": {"test": "abs(round(datum.value*100)) % 2 == 0", "value": -27}, "value": -13}, "labelExpr": "datum.value > -893.65 && abs(round(datum.value*100)) % 2 == 0 ? replace(datum.label, '−', '-') : ''", "labelAngle": -90, "labelAlign": "center", "labelBaseline": "top", "labelPadding": 43, "title": null}},
     "color": {"datum": "full", "title": "rearrangement:"}
    }},
   {"data": {"values": [{"sup": "110", "sym": "Zr"}]},
    "layer": [
     {"mark": {"type": "rect", "fill": "#f5fabb", "stroke": "black", "strokeWidth": 2},
      "encoding": {"x": {"datum": 4.51, "type": "quantitative", "axis": null}, "x2": {"datum": 45.5}, "y": {"datum": -893.61109, "type": "quantitative", "axis": null}, "y2": {"datum": -893.62475}}},
     {"mark": {"type": "text", "fontSize": 52, "align": "right", "baseline": "alphabetic", "font": "Liberation Sans", "color": "black"},
      "encoding": {"x": {"datum": 23.61, "type": "quantitative", "axis": null}, "y": {"datum": -893.6179, "type": "quantitative", "axis": null}, "text": {"field": "sup"}}},
     {"mark": {"type": "text", "fontSize": 82, "align": "left", "baseline": "alphabetic", "font": "Liberation Sans", "color": "black"},
      "encoding": {"x": {"datum": 25.09, "type": "quantitative", "axis": null}, "y": {"datum": -893.62217, "type": "quantitative", "axis": null}, "text": {"field": "sym"}}}
    ]}
  ]}
],
"config": {
 "view": {"stroke": "black", "strokeWidth": 3},
 "font": "Liberation Sans",
 "axis": {"grid": false, "domain": false, "tickColor": "black", "tickWidth": 3, "labelFont": "Liberation Sans", "labelFontSize": 36, "labelColor": "black", "titleFont": "Liberation Sans", "titleColor": "black", "titleFontWeight": "normal", "labelOverlap": false, "labelFlush": false},
 "legend": {"orient": "none", "legendX": 626, "legendY": 520, "titleFont": "Liberation Sans", "titleFontSize": 45, "titleFontWeight": "normal", "titleColor": "black", "titlePadding": 7, "titleLimit": 600, "labelLimit": 600, "labelFont": "Liberation Sans", "labelFontSize": 45, "labelColor": "black", "symbolType": "stroke", "symbolSize": 7225, "symbolStrokeWidth": 7, "clipHeight": 47, "rowPadding": 0, "symbolOffset": 15, "labelOffset": 19}
}
}
